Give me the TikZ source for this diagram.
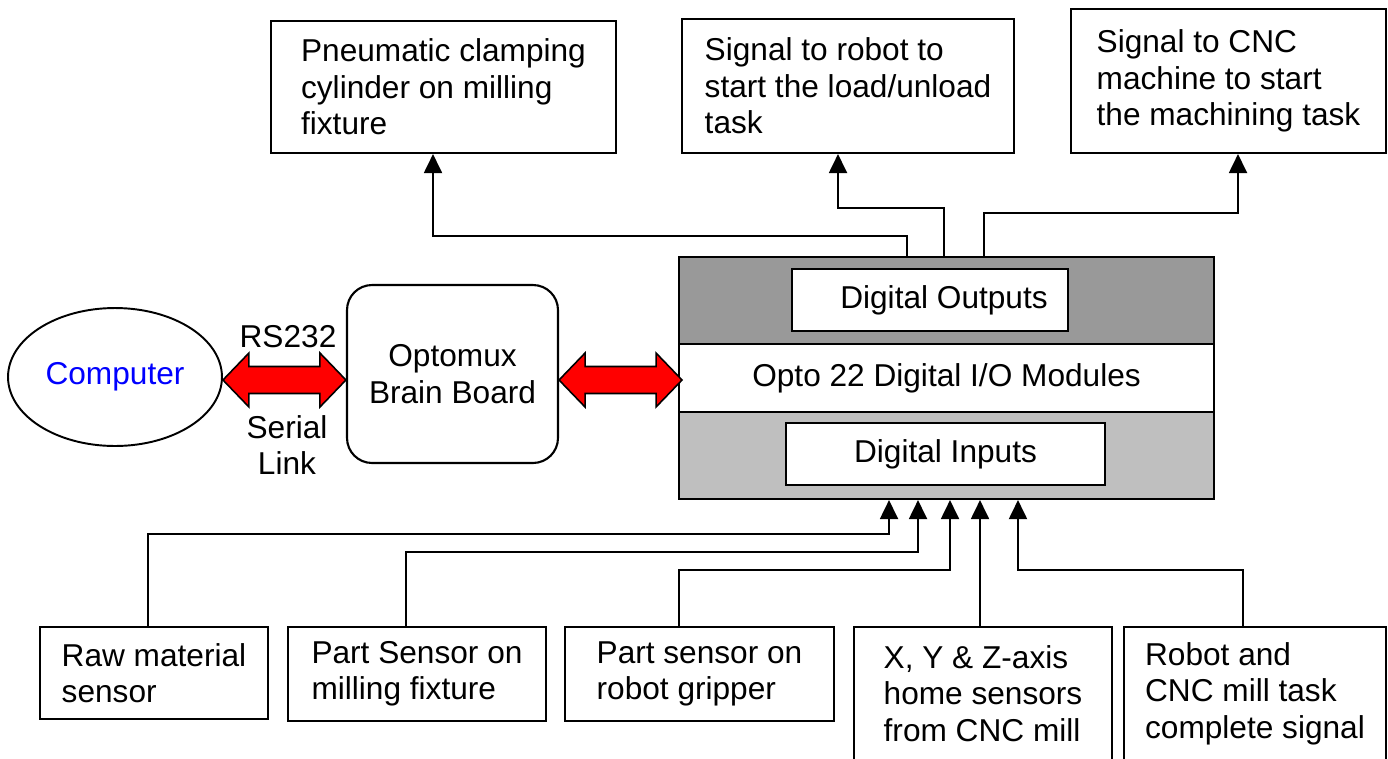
\documentclass[tikz,border=0pt]{standalone}
\usepackage{fontspec}
\setmainfont{Liberation Sans}
\usetikzlibrary{arrows.meta,shapes.geometric}
\begin{document}
\begin{tikzpicture}[x=0.02cm, y=-0.02cm, line width=1.1pt,
  font=\fontsize{18}{20.7}\selectfont,
  every node/.style={inner sep=0pt},
  box/.style={draw, line width=1.2pt, align=left},
  sig/.style={-{Triangle[length=0.38cm, width=0.36cm]}},
  bus/.style={draw=black, fill=red, line width=0.9pt, line join=miter}]
\useasboundingbox (0,0) rectangle (1388,758);
\clip (0,0) rectangle (1388,758);
\node [draw, ellipse, minimum width=4.28cm, minimum height=2.76cm, text=blue] (comp) at (115,377) {Computer};
\node [box, rounded corners=0.5cm, align=center, minimum width=4.22cm, minimum height=3.56cm] (brain) at (452.5,374) {Optomux\\Brain Board};
\node (rs) at (288,337) {RS232};
\node [align=center] (serial) at (287,445) {Serial\\Link};
\node [box, fill=black!40, minimum width=10.7cm, minimum height=1.74cm] (outbank) at (946.5,300.5) {};
\node [box, minimum width=10.7cm, minimum height=1.36cm] (iomid) at (946.5,378) {Opto 22 Digital I/O Modules};
\node [box, fill=black!25, minimum width=10.7cm, minimum height=1.74cm] (inbank) at (946.5,455.5) {};
\node [box, fill=white, minimum width=5.52cm, minimum height=1.24cm] (dout) at (930,300) {\hspace*{0.56cm}Digital Outputs};
\node [box, fill=white, minimum width=6.38cm, minimum height=1.24cm] (din) at (945.5,454) {Digital Inputs};
\node [box, minimum width=6.9cm, minimum height=2.64cm] (clamp) at (443.5,87) {Pneumatic clamping\\cylinder on milling\\fixture};
\node [box, minimum width=6.64cm, minimum height=2.68cm] (robsig) at (848,86) {Signal to robot to\\start the load/unload\\task};
\node [box, minimum width=6.3cm, minimum height=2.88cm] (cncsig) at (1228.5,81) {Signal to CNC\\machine to start\\the machining task};
\node [box, minimum width=4.56cm, minimum height=1.84cm] (raw) at (154,673) {Raw material\\sensor};
\node [box, minimum width=5.16cm, minimum height=1.88cm] (partfix) at (417,674) {Part Sensor on\\milling fixture};
\node [box, minimum width=5.38cm, minimum height=1.88cm] (partgrip) at (699.5,674) {Part sensor on\\robot gripper};
\node [box, minimum width=5.16cm, minimum height=2.66cm] (home) at (983,693.5) {X, Y \& Z-axis\\home sensors\\from CNC mill};
\node [box, minimum width=5.24cm, minimum height=2.66cm] (done) at (1255,693.5) {Robot and\\CNC mill task\\complete signal};
\draw [bus] ([yshift=-0.06cm]comp.east) -- ++(26,-27) -- ++(0,13.5) -- ++(71,0) -- ++(0,-13.5) -- ++(26,27) -- ++(-26,27) -- ++(0,-13.5) -- ++(-71,0) -- ++(0,13.5) -- cycle;
\draw [bus] ([yshift=-0.12cm]brain.east) -- ++(26,-27) -- ++(0,13.5) -- ++(71,0) -- ++(0,-13.5) -- ++(26,27) -- ++(-26,27) -- ++(0,-13.5) -- ++(-71,0) -- ++(0,13.5) -- cycle;
\draw [sig] ([xshift=-0.79cm]outbank.north) -- ++(0,-20) -| ([xshift=-0.21cm]clamp.south);
\draw [sig] ([xshift=-0.05cm]outbank.north) -- ++(0,-48) -| ([xshift=-0.2cm]robsig.south);
\draw [sig] ([xshift=0.75cm]outbank.north) -- ++(0,-43) -| ([xshift=0.19cm]cncsig.south);
\draw [sig] ([xshift=-0.12cm]raw.north) -- ++(0,-92) -| ([xshift=-1.15cm]inbank.south);
\draw [sig] ([xshift=-0.22cm]partfix.north) -- ++(0,-74) -| ([xshift=-0.57cm]inbank.south);
\draw [sig] ([xshift=-0.41cm]partgrip.north) -- ++(0,-56) -| ([xshift=0.07cm]inbank.south);
\draw [sig] ([xshift=-0.06cm]home.north) -- ([xshift=0.67cm]inbank.south);
\draw [sig] ([xshift=-0.24cm]done.north) -- ++(0,-56) -| ([xshift=1.43cm]inbank.south);
\end{tikzpicture}
\end{document}
